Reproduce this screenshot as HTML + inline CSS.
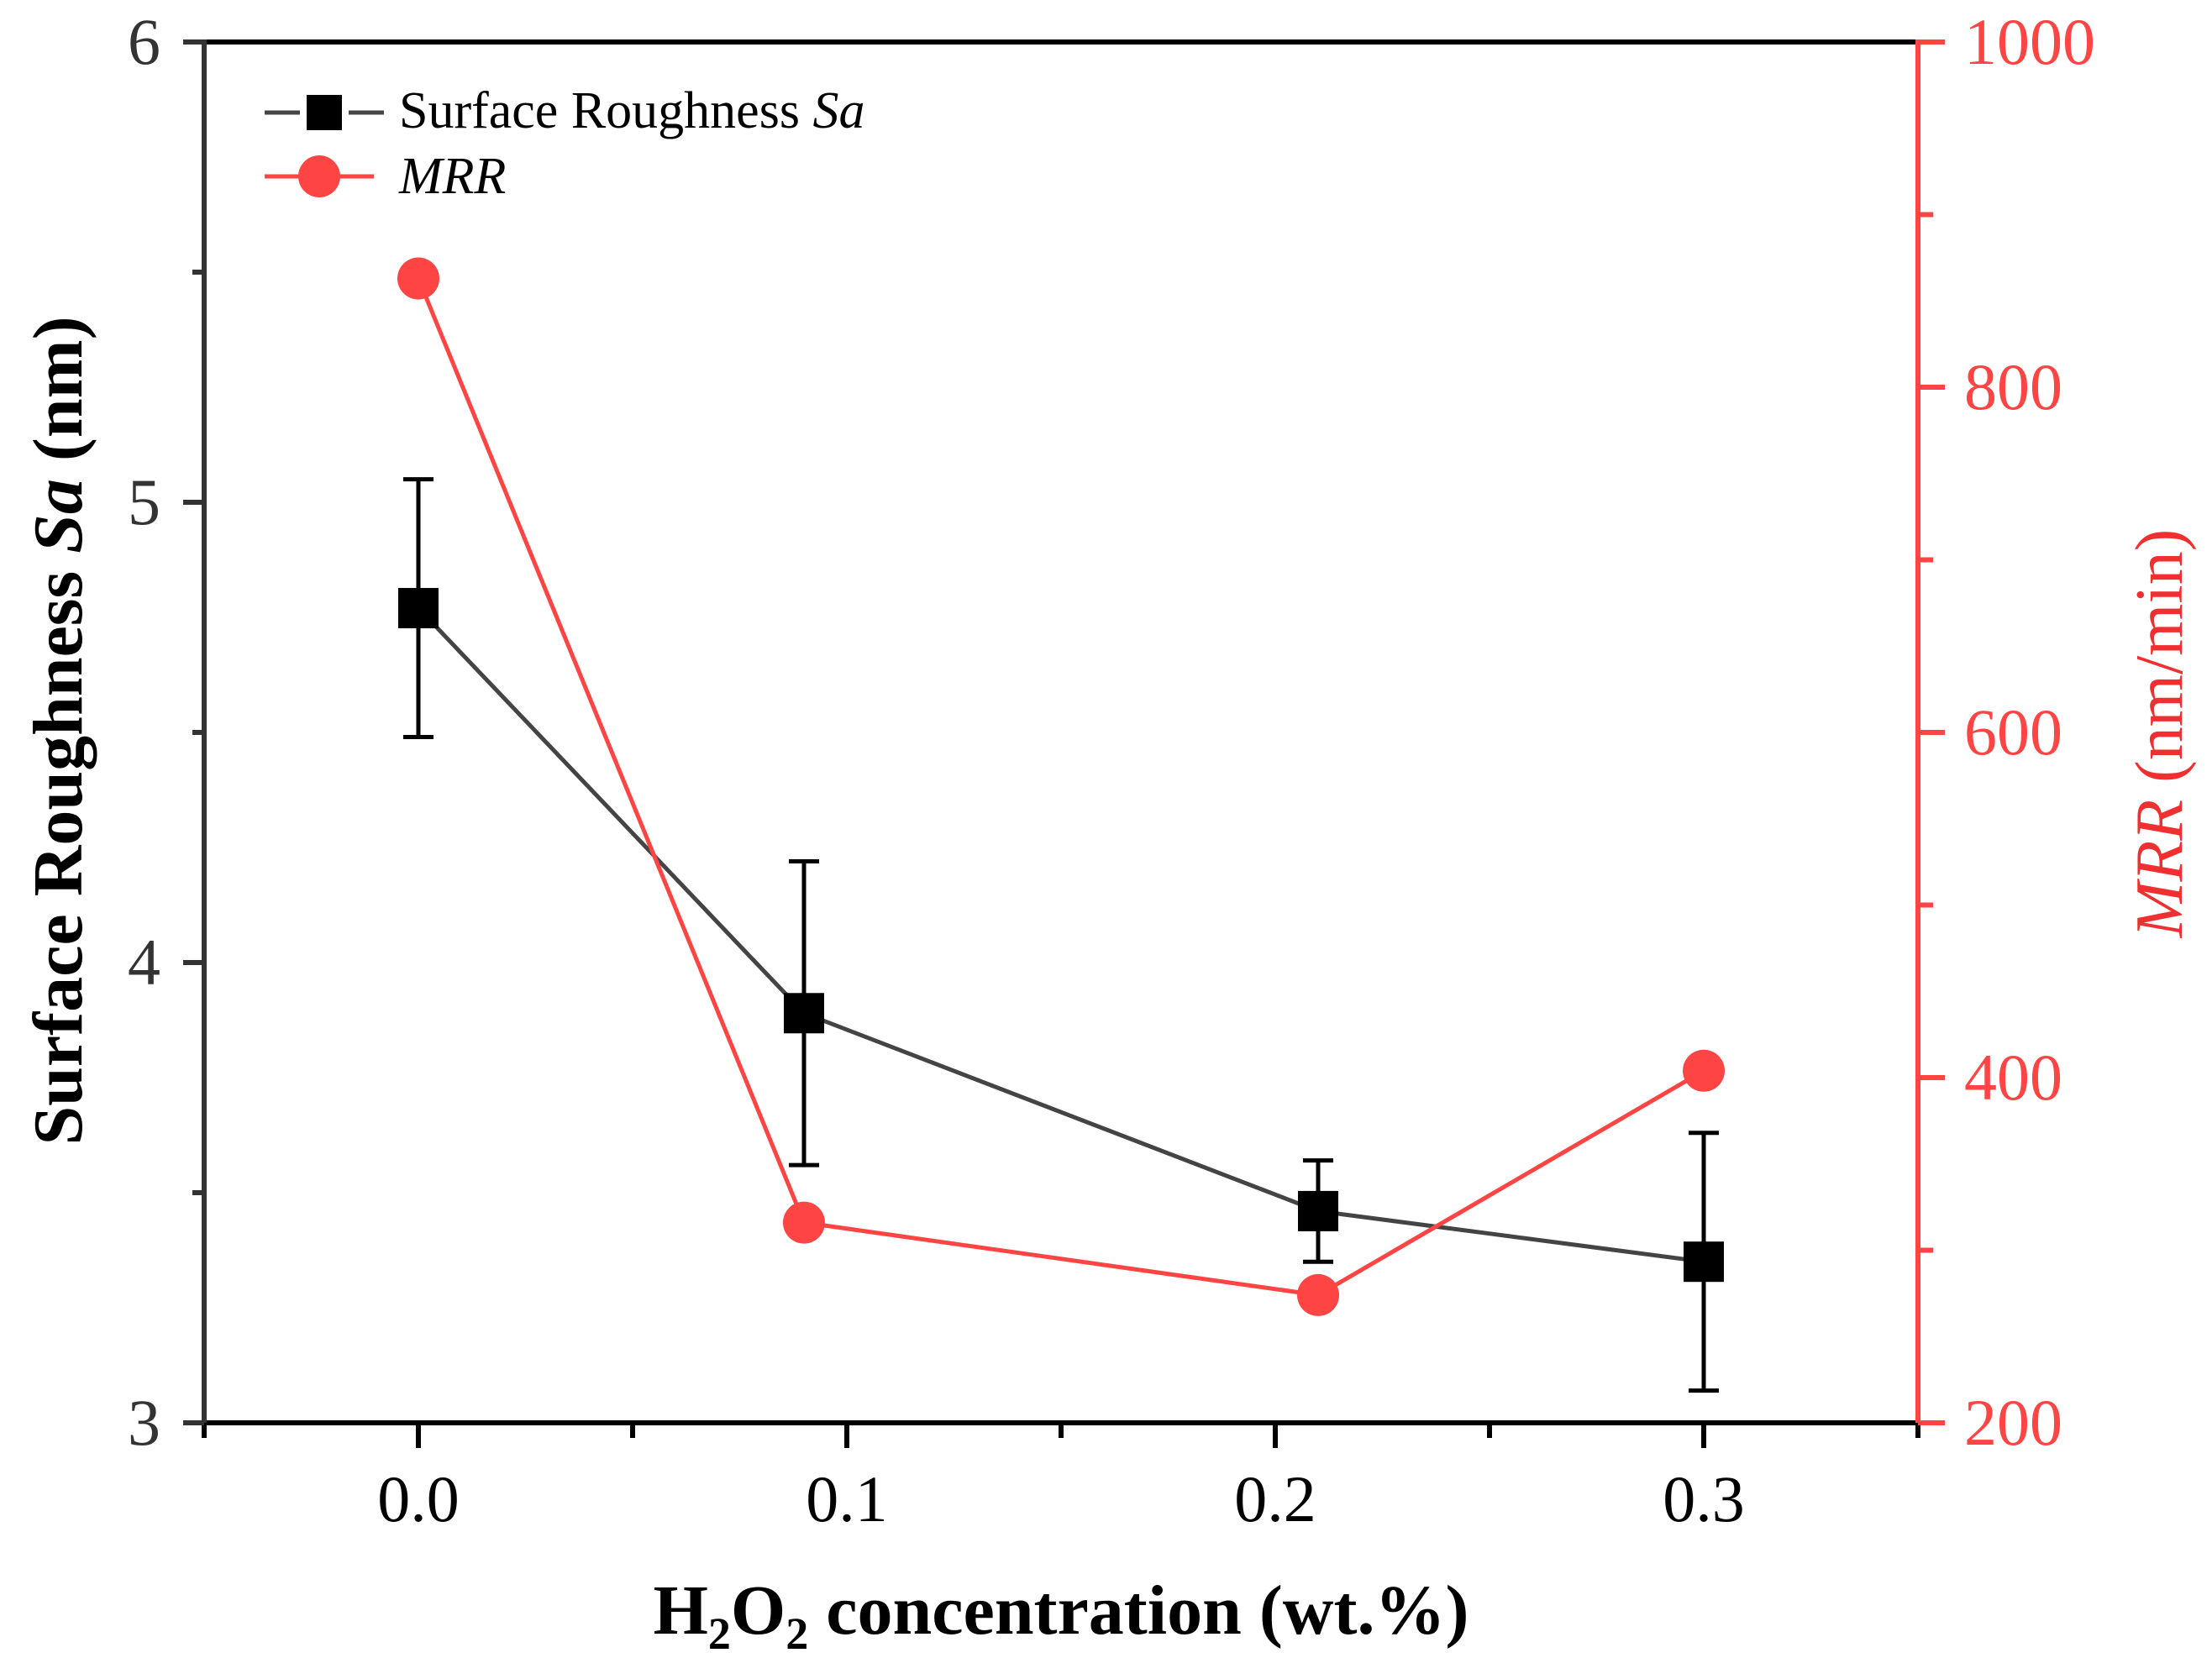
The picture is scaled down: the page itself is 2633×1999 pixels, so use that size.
<!DOCTYPE html>
<html><head><meta charset="utf-8"><style>
html,body{margin:0;padding:0;background:#fff;}
svg{display:block;font-family:"Liberation Serif",serif;}
</style></head><body>
<svg id="chart" width="2633" height="1999" viewBox="0 0 2633 1999" xmlns="http://www.w3.org/2000/svg">
<rect width="2633" height="1999" fill="#fff"/>
<g id="axes"></g>
<g id="series"></g>
<text transform="translate(97,870) rotate(-90)" text-anchor="middle" font-size="84" font-weight="bold" fill="#000">Surface Roughness <tspan font-style="italic">Sa</tspan> (nm)</text>
<text transform="translate(2597,873) rotate(-90)" text-anchor="middle" font-size="80" fill="#f03030"><tspan font-style="italic">MRR</tspan> (nm/min)</text>
<text x="1263" y="1945" text-anchor="middle" font-size="84" font-weight="bold" fill="#000">H<tspan font-size="54" dy="18">2</tspan><tspan dy="-18">O</tspan><tspan font-size="54" dy="18">2</tspan><tspan dy="-18"> concentration (wt.%)</tspan></text>
<g>
<line x1="315" y1="134" x2="357" y2="134" stroke="#444" stroke-width="5"/>
<line x1="415" y1="134" x2="457" y2="134" stroke="#444" stroke-width="5"/>
<rect x="365" y="113" width="42" height="42" fill="#000"/>
<text x="475" y="152" font-size="62" fill="#000">Surface Roughness <tspan font-style="italic">Sa</tspan></text>
<line x1="315" y1="210" x2="445" y2="210" stroke="#f44" stroke-width="5"/>
<circle cx="380" cy="210" r="25" fill="#f44"/>
<text x="475" y="230" font-size="62" font-style="italic" fill="#000">MRR</text>
</g>
</svg>
<script>
const xValues=[0,0.09,0.21,0.3];
const saValues=[4.77,3.89,3.46,3.35];
const saErrors=[0.28,0.33,0.11,0.28];
const mrrValues=[863,316,274,404];
const xTicks=["0.0","0.1","0.2","0.3"];
const yTicks=["3","4","5","6"];
const y2Ticks=["200","400","600","800","1000"];

const NS="http://www.w3.org/2000/svg";
const L=243,R=2283,T=50,B=1694;
const xs=v=>L+(v+0.05)/0.4*(R-L);
const ys=v=>B-(v-3)/3*(B-T);
const y2s=v=>B-(v-200)/800*(B-T);
function mk(tag,attrs,parent){const e=document.createElementNS(NS,tag);for(const k in attrs)e.setAttribute(k,attrs[k]);parent.appendChild(e);return e;}
const ax=document.getElementById('axes');
const se=document.getElementById('series');
let e;
e=mk('line',{x1:L,y1:T,x2:R,y2:T,stroke:'#000','stroke-width':6},ax);


e=mk('line',{x1:L,y1:B,x2:R,y2:B,stroke:'#000','stroke-width':6},ax);


e=mk('line',{x1:L,y1:T-3,x2:L,y2:B+3,stroke:'#333','stroke-width':6},ax);


e=mk('line',{x1:R,y1:T-3,x2:R,y2:B+3,stroke:'#f44','stroke-width':6},ax);


xTicks.forEach(t=>{const x=xs(parseFloat(t));
 e=mk('line',{x1:x,y1:B,x2:x,y2:B+30,stroke:'#000','stroke-width':6},ax);
 
 
 e=mk('text',{x:x,y:B+117,'text-anchor':'middle','font-size':78,fill:'#000'},ax);e.textContent=t;
 
 
});
[-0.05,0.05,0.15,0.25,0.35].forEach(v=>{const x=xs(v);
 e=mk('line',{x1:x,y1:B,x2:x,y2:B+18,stroke:'#000','stroke-width':6},ax);
 
 
});
yTicks.forEach(t=>{const y=ys(parseFloat(t));
 e=mk('line',{x1:L-25,y1:y,x2:L,y2:y,stroke:'#333','stroke-width':6},ax);
 
 
 e=mk('text',{x:L-52,y:y+26,'text-anchor':'end','font-size':78,fill:'#333'},ax);e.textContent=t;
 
 
});
[3.5,4.5,5.5].forEach(v=>{const y=ys(v);
 e=mk('line',{x1:L-14,y1:y,x2:L,y2:y,stroke:'#333','stroke-width':6},ax);
 
 
});
y2Ticks.forEach(t=>{const y=y2s(parseFloat(t));
 e=mk('line',{x1:R,y1:y,x2:R+32,y2:y,stroke:'#f44','stroke-width':6},ax);
 
 
 e=mk('text',{x:R+55,y:y+26,'text-anchor':'start','font-size':78,fill:'#f44'},ax);e.textContent=t;
 
 
});
[300,500,700,900].forEach(v=>{const y=y2s(v);
 e=mk('line',{x1:R,y1:y,x2:R+18,y2:y,stroke:'#f44','stroke-width':6},ax);
 
 
});
e=mk('polyline',{points:xValues.map((v,i)=>xs(v)+','+ys(saValues[i])).join(' '),fill:'none',stroke:'#444','stroke-width':5},se);


e=mk('polyline',{points:xValues.map((v,i)=>xs(v)+','+y2s(mrrValues[i])).join(' '),fill:'none',stroke:'#f44','stroke-width':5},se);


xValues.forEach((v,i)=>{const x=xs(v);const hi=ys(saValues[i]+saErrors[i]),lo=ys(saValues[i]-saErrors[i]);
 const g=mk('g',{stroke:'#000','stroke-width':5},se);
 
 
 mk('line',{x1:x,y1:hi,x2:x,y2:lo},g);
 mk('line',{x1:x-18,y1:hi,x2:x+18,y2:hi},g);
 mk('line',{x1:x-18,y1:lo,x2:x+18,y2:lo},g);
});
xValues.forEach((v,i)=>{
 e=mk('circle',{cx:xs(v),cy:y2s(mrrValues[i]),r:25,fill:'#f44'},se);
 
 
});
xValues.forEach((v,i)=>{
 e=mk('rect',{x:xs(v)-24,y:ys(saValues[i])-24,width:48,height:48,fill:'#000'},se);
 
 
});
</script>
</body></html>
